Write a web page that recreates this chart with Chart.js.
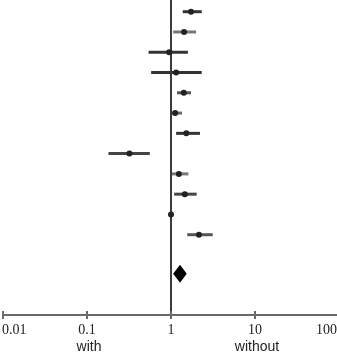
<!DOCTYPE html>
<html><head><meta charset="utf-8">
<script src="https://cdn.jsdelivr.net/npm/chart.js@4/dist/chart.umd.min.js"></script>
<style>html,body{margin:0;padding:0;background:#fff}canvas{display:block}</style>
</head><body>
<canvas id="c" width="337" height="354"></canvas>
<script>
// Forest plot data (odds ratios, log scale)
const rows = [1,2,3,4,5,6,7,8,9,10,11,12];
const estimates = [1.73,1.43,0.95,1.15,1.42,1.12,1.52,0.32,1.24,1.46,1.00,2.15];
const lowerCI  = [1.38,1.06,0.54,0.58,1.18,1.00,1.15,0.18,1.02,1.09,0.97,1.56];
const upperCI  = [2.32,1.99,1.59,2.32,1.73,1.35,2.21,0.56,1.61,2.02,1.04,3.14];
const pooled = {est:1.28, lo:1.06, hi:1.54, row:13.92};
const tickValues = [0.01,0.1,1,10,100];
const tickLabels = ['0.01','0.1','1','10','100'];
const sideLabels = ['with','without'];
const sideLabelPos = [0.1,10];
const ciColors = ['#333','#777','#333','#333','#555','#666','#333','#444','#777','#444','#444','#555'];

const forestPlugin = {
  id:'forest',
  beforeDatasetsDraw(chart){
    const {ctx, scales:{x,y}} = chart;
    ctx.save();
    // CI lines
    ctx.lineWidth = 3;
    rows.forEach((r,i)=>{
      ctx.strokeStyle = ciColors[i];
      ctx.beginPath();
      ctx.moveTo(x.getPixelForValue(lowerCI[i]), y.getPixelForValue(r));
      ctx.lineTo(x.getPixelForValue(upperCI[i]), y.getPixelForValue(r));
      ctx.stroke();
    });
    // reference line
    const x1 = x.getPixelForValue(1);
    ctx.strokeStyle = '#3a3a3a'; ctx.lineWidth = 2;
    ctx.beginPath(); ctx.moveTo(x1, 0); ctx.lineTo(x1, chart.chartArea.bottom+4); ctx.stroke();
    // x axis
    const ay = chart.chartArea.bottom;
    ctx.strokeStyle = '#6a6a6a'; ctx.lineWidth = 2;
    ctx.beginPath(); ctx.moveTo(x.getPixelForValue(tickValues[0]), ay); ctx.lineTo(chart.width, ay); ctx.stroke();
    tickValues.forEach((v,i)=>{
      const px = x.getPixelForValue(v);
      ctx.beginPath(); ctx.moveTo(px, ay-4); ctx.lineTo(px, ay+4); ctx.stroke();
      ctx.fillStyle = '#222';
      ctx.font = '14px "Liberation Serif"';
      ctx.textBaseline = 'middle';
      let tx = px; ctx.textAlign = 'center';
      const w = ctx.measureText(tickLabels[i]).width;
      if (tx - w/2 < 2) { ctx.textAlign='left'; tx = 2; }
      if (tx + w/2 > chart.width) { ctx.textAlign='right'; tx = chart.width; }
      ctx.fillText(tickLabels[i], tx, ay+15);
    });
    ctx.font = '14px "Liberation Sans"';
    ctx.textAlign = 'center';
    sideLabels.forEach((s,i)=>{ ctx.fillText(s, x.getPixelForValue(sideLabelPos[i])+2, ay+32); });
    // pooled diamond
    const cy = y.getPixelForValue(pooled.row);
    ctx.fillStyle = '#000';
    ctx.beginPath();
    ctx.moveTo(x.getPixelForValue(pooled.lo), cy);
    ctx.lineTo(x.getPixelForValue(pooled.est), cy-9);
    ctx.lineTo(x.getPixelForValue(pooled.hi), cy);
    ctx.lineTo(x.getPixelForValue(pooled.est), cy+9);
    ctx.closePath(); ctx.fill();
    ctx.restore();
  }
};

new Chart(document.getElementById('c'), {
  type:'scatter',
  data:{datasets:[
    {data: rows.map((r,i)=>({x:estimates[i], y:r})), pointRadius:3, pointBackgroundColor:'#222', pointBorderColor:'#222', pointBorderWidth:0}
  ]},
  options:{
    responsive:false, animation:false,
    layout:{autoPadding:false, padding:{left:2,right:0,top:0,bottom:39}},
    plugins:{legend:{display:false}, tooltip:{enabled:false}},
    scales:{
      x:{type:'logarithmic', display:false, min:Math.pow(10,-2.012), max:Math.pow(10,1.976)},
      y:{type:'linear', display:false, reverse:true, min:0.423, max:15.96}
    }
  },
  plugins:[forestPlugin]
});
</script>
</body></html>
